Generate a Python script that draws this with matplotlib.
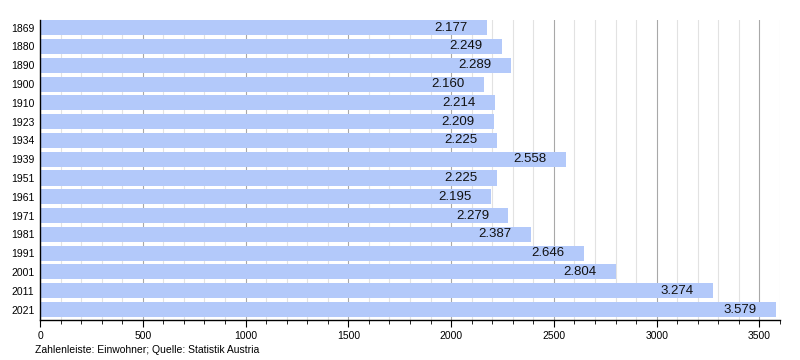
import matplotlib
matplotlib.use("Agg")
import matplotlib.pyplot as plt
from matplotlib.ticker import MultipleLocator

YEARS = ["1869", "1880", "1890", "1900", "1910", "1923", "1934", "1939",
         "1951", "1961", "1971", "1981", "1991", "2001", "2011", "2021"]
POPULATION = [2177, 2249, 2289, 2160, 2214, 2209, 2225, 2558,
              2225, 2195, 2279, 2387, 2646, 2804, 3274, 3579]
FOOTER = "Zahlenleiste: Einwohner; Quelle: Statistik Austria"

BAR = "#b3c9fa"
MAJOR_GRID = "#a8a8a8"
MINOR_GRID = "#e2e2e2"

plt.rcParams["font.family"] = ["Liberation Sans", "DejaVu Sans"]

fig = plt.figure(figsize=(8, 3.6), dpi=100)
ax = fig.add_axes([0.05, 0.111, 0.925, 0.833])

pos = list(range(len(YEARS)))
ax.barh(pos, POPULATION, height=0.8, color=BAR, zorder=2)
for y, v in zip(pos, POPULATION):
    label = f"{v:,}".replace(",", ".")
    ax.annotate(label, (v, y), xytext=(-14, 0), textcoords="offset points",
                ha="right", va="center", fontsize=9.5, color="#111111", zorder=3)

ax.set_xlim(0, 3600)
ax.set_ylim(15.56, -0.4)
ax.set_yticks(pos)
ax.set_yticklabels(YEARS, fontsize=7.5)
ax.tick_params(axis="y", length=0, pad=4)
ax.xaxis.set_major_locator(MultipleLocator(500))
ax.xaxis.set_minor_locator(MultipleLocator(100))
ax.tick_params(axis="x", which="major", length=5, width=0.8, labelsize=7.5, pad=3)
ax.tick_params(axis="x", which="minor", length=3, width=0.6)
ax.grid(axis="x", which="major", color=MAJOR_GRID, linewidth=0.8, zorder=0)
ax.grid(axis="x", which="minor", color=MINOR_GRID, linewidth=0.8, zorder=0)
ax.set_axisbelow(True)
for side in ("top", "right"):
    ax.spines[side].set_visible(False)
ax.spines["left"].set_linewidth(1.0)
ax.spines["bottom"].set_linewidth(1.0)

fig.text(35 / 800, 1 - 350 / 360, FOOTER, fontsize=7.5, ha="left", va="center")

fig.savefig("out.png", dpi=100)
